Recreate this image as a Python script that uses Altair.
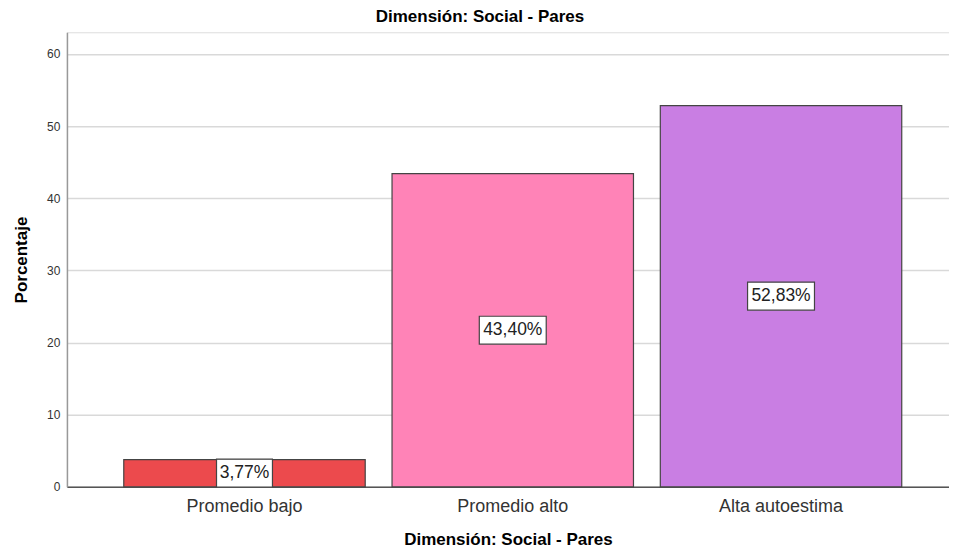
import altair as alt
import pandas as pd

categories = ["Promedio bajo", "Promedio alto", "Alta autoestima"]
values = [3.77, 43.40, 52.83]
labels = ["3,77%", "43,40%", "52,83%"]
colors = ["#EC4A4D", "#FF83B7", "#C97EE3"]

df = pd.DataFrame({"cat": categories, "val": values, "lab": labels})

FONT = "Liberation Sans"

x = alt.X(
    "cat:N",
    sort=categories,
    scale=alt.Scale(paddingInner=0.1, paddingOuter=0.194, align=0.546),
    axis=alt.Axis(
        title="Dimensión: Social - Pares",
        labelAngle=0,
        ticks=False,
        labelPadding=11,
        labelFontSize=18,
        labelColor="#333333",
        labelFont=FONT,
        titleFont=FONT,
        titleFontSize=17,
        titleFontWeight="bold",
        titleColor="#000000",
        titlePadding=16,
        domainColor="#555555",
        domainWidth=1.5,
        grid=False,
    ),
)

bars = alt.Chart(df).mark_bar(stroke="#444444", strokeWidth=1.2).encode(
    x=x,
    y=alt.Y(
        "val:Q",
        scale=alt.Scale(domain=[0, 63], nice=False),
        axis=alt.Axis(
            title="Porcentaje",
            values=[0, 10, 20, 30, 40, 50, 60],
            ticks=False,
            labelPadding=7,
            labelFontSize=12,
            labelColor="#333333",
            labelFont=FONT,
            titleFont=FONT,
            titleFontSize=17,
            titleFontWeight="bold",
            titleColor="#000000",
            titlePadding=16,
            domainColor="#999999",
            domainWidth=1.5,
            gridColor="#d9d9d9",
            gridWidth=1.5,
        ),
    ),
    color=alt.Color("cat:N", sort=categories,
                    scale=alt.Scale(domain=categories, range=colors), legend=None),
)

base = alt.Chart(df).transform_calculate(
    mid="datum.val / 2", w="length(datum.lab) * 11 + 1"
)

boxes = base.mark_rect(
    fill="white", stroke="#444444", strokeWidth=1.2,
    width={"expr": "datum.w"}, height=28,
).encode(
    x=alt.X("cat:N", sort=categories),
    y=alt.Y("mid:Q"),
)

texts = base.mark_text(fontSize=17.5, font=FONT, color="#222222", baseline="middle").encode(
    x=alt.X("cat:N", sort=categories),
    y=alt.Y("mid:Q"),
    text="lab:N",
)

chart = alt.layer(bars, boxes, texts).properties(
    width=883,
    height=455,
    title=alt.Title("Dimensión: Social - Pares", font=FONT, fontSize=17,
                    fontWeight="bold", color="#000000", anchor="middle",
                    dx=-28, offset=6),
    padding={"left": 4, "top": 0, "right": 0, "bottom": 0},
).configure_view(stroke=None).configure(background="white")

chart.save("out.html", embed_options={"renderer": "svg", "actions": False})
